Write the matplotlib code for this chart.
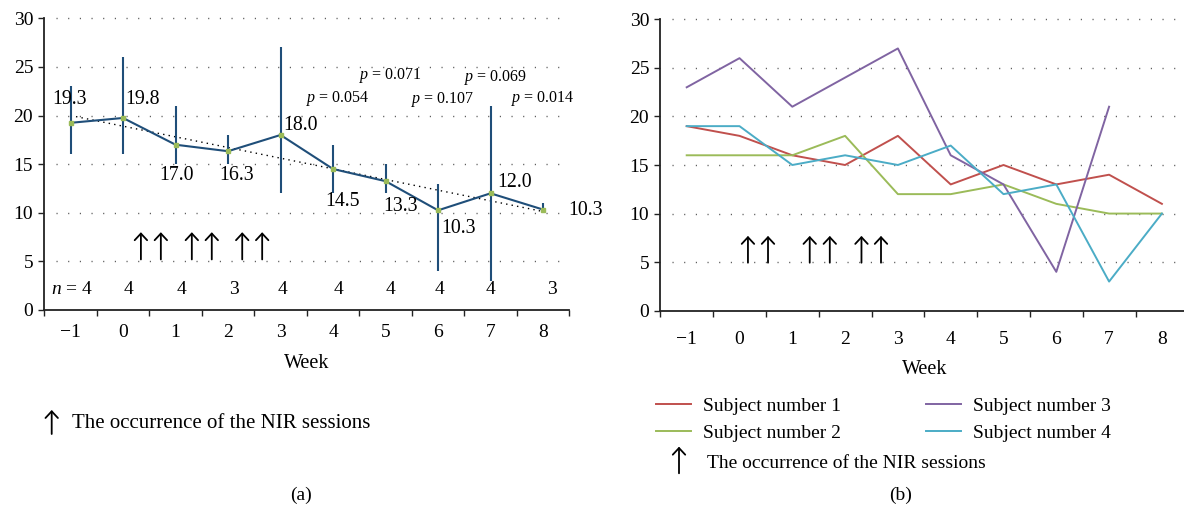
import numpy as np
import matplotlib
matplotlib.use("Agg")
import matplotlib.pyplot as plt

plt.rcParams['font.family'] = ['Liberation Serif', 'DejaVu Serif']
plt.rcParams['mathtext.fontset'] = 'custom'
plt.rcParams['mathtext.rm'] = 'Liberation Serif'
plt.rcParams['mathtext.it'] = 'Liberation Serif:italic'

# ---------------- data ----------------
weeks = [-1, 0, 1, 2, 3, 4, 5, 6, 7, 8]
week_labels = ["\u22121", "0", "1", "2", "3", "4", "5", "6", "7", "8"]

mean_score = [19.25, 19.75, 17.0, 16.33, 18.0, 14.5, 13.25, 10.25, 12.0, 10.33]
mean_labels = ["19.3", "19.8", "17.0", "16.3", "18.0", "14.5", "13.3", "10.3", "12.0", "10.3"]
range_low = [16, 16, 15, 15, 12, 12, 12, 4, 3, 10]
range_high = [23, 26, 21, 18, 27, 17, 15, 13, 21, 11]
n_subjects = [4, 4, 4, 3, 4, 4, 4, 4, 4, 3]
p_labels = ["0.054", "0.071", "0.107", "0.069", "0.014"]
p_weeks = [4, 5, 6, 7, 8]

subject1 = [19, 18, 16, 15, 18, 13, 15, 13, 14, 11]
subject2 = [16, 16, 16, 18, 12, 12, 13, 11, 10, 10]
subject3 = [23, 26, 21, np.nan, 27, 16, 13, 4, 21, np.nan]
subject4 = [19, 19, 15, 16, 15, 17, 12, 13, 3, 10]
subject_names = ["Subject number 1", "Subject number 2", "Subject number 3", "Subject number 4"]

# NIR session times (weeks)
sessions_a = [0.34, 0.72, 1.31, 1.69, 2.27, 2.65]
sessions_b = [0.16, 0.54, 1.33, 1.71, 2.31, 2.68]

# ---------------- style ----------------
c_mean = '#1f4e79'
c_marker = '#9bbb59'
subj_colors = ['#c0504d', '#9bbb59', '#8064a2', '#4bacc6']
grid_color = '#555555'
arrow_style = '->, head_length=0.3, head_width=0.28'

W, H = 1184, 516
fig = plt.figure(figsize=(W / 100, H / 100), dpi=100)

def fx(px):
    return px / W

def fy(py):
    return 1 - py / H

ax1 = fig.add_axes([fx(44.3), fy(310), (569.3 - 44.3) / W, (310 - 18.3) / H])
ax2 = fig.add_axes([fx(660.3), fy(310.7), (1188.3 - 660.3) / W, (310.7 - 19.3) / H])

def style_axes(ax, xpad, grid_end):
    ax.set_xlim(-1.5, 8.5)
    ax.set_ylim(0, 30)
    for s in ['top', 'right']:
        ax.spines[s].set_visible(False)
    for s in ['left', 'bottom']:
        ax.spines[s].set_color('#222222')
        ax.spines[s].set_linewidth(1.3)
    ax.set_yticks(range(0, 31, 5))
    ax.set_xticks(np.arange(-1.5, 9.0, 1.0))
    ax.set_xticklabels([])
    ax.set_xticks(weeks, minor=True)
    ax.set_xticklabels(week_labels, minor=True)
    ax.tick_params(axis='y', length=4, width=1.0, color='#222222', labelsize=14, pad=4)
    ax.tick_params(axis='x', which='major', length=4.5, width=1.0, color='#222222')
    ax.tick_params(axis='x', which='minor', length=0, labelsize=14, pad=xpad)
    ax.hlines(range(5, 31, 5), -1.27, grid_end, colors=grid_color,
              linestyles=[(0, (0.8, 7.6))], linewidth=1.0, clip_on=False, zorder=1)
    ax.set_facecolor('none')

style_axes(ax1, 10, 8.4)
style_axes(ax2, 14.5, 8.3)

# ---------------- panel (a) ----------------
ax1.vlines(weeks, range_low, range_high, colors=c_mean, linewidth=1.5, zorder=3)
ax1.plot(weeks, mean_score, color=c_mean, lw=1.5, zorder=4)
ax1.plot(weeks, mean_score, ls='none', marker='s', ms=2.5, color=c_marker, zorder=5)
coef = np.polyfit(weeks, mean_score, 1)
trend = np.polyval(coef, weeks)
ax1.plot([weeks[0], weeks[-1]], [trend[0], trend[-1]], color='black', lw=1.0,
         ls=(0, (1, 3)), zorder=2)

lab_pos = [(-1.01, 21.7, 'center'), (0.04, 21.7, 'left'), (1.01, 13.8, 'center'),
           (2.16, 13.8, 'center'), (3.05, 19.0, 'left'), (4.19, 11.2, 'center'),
           (5.29, 10.6, 'center'), (6.06, 8.4, 'left'), (7.12, 13.1, 'left'),
           (8.48, 10.2, 'left')]
for (x, y, ha), s in zip(lab_pos, mean_labels):
    ax1.text(x, y, s, ha=ha, va='center', fontsize=14.3, clip_on=False, zorder=6)

p_pos = [(4.10, 21.8), (5.09, 24.1), (6.08, 21.7), (7.10, 23.9), (7.99, 21.8)]
for (x, y), s in zip(p_pos, p_labels):
    ax1.text(x, y, r"$p$ = " + s, ha='center', va='center', fontsize=11.5)

n_pos = [-0.97, 0.10, 1.12, 2.11, 3.03, 4.11, 5.10, 6.02, 7.0, 8.17]
for i, (x, n) in enumerate(zip(n_pos, n_subjects)):
    s = r"$n$ = %d" % n if i == 0 else "%d" % n
    ax1.text(x, 2.06, s, ha='center', va='center', fontsize=14)

for x in sessions_a:
    ax1.annotate('', xy=(x, 8.0), xytext=(x, 5.2),
                 arrowprops=dict(arrowstyle=arrow_style, lw=1.3, color='black',
                                 shrinkA=0, shrinkB=0, mutation_scale=16))

# ---------------- panel (b) ----------------
lines = []
for vals, col, name in zip([subject1, subject2, subject3, subject4], subj_colors, subject_names):
    v = np.array(vals, dtype=float)
    x = np.array(weeks, dtype=float)
    m = ~np.isnan(v)
    ln, = ax2.plot(x[m], v[m], color=col, lw=1.4, label=name, zorder=3)
    lines.append(ln)

for x in sessions_b:
    ax2.annotate('', xy=(x, 7.7), xytext=(x, 4.94),
                 arrowprops=dict(arrowstyle=arrow_style, lw=1.3, color='black',
                                 shrinkA=0, shrinkB=0, mutation_scale=16))

# ---------------- outer texts ----------------
fig.text(fx(307), fy(363.3), "Week", ha='center', va='center', fontsize=14.5)
fig.text(fx(924.5), fy(369), "Week", ha='center', va='center', fontsize=14.5)
fig.text(fx(301.3), fy(495), "(a)", ha='center', va='center', fontsize=14)
fig.text(fx(900.8), fy(495), "(b)", ha='center', va='center', fontsize=14)

fig.text(fx(71.7), fy(424), "The occurrence of the NIR sessions", ha='left', va='center', fontsize=15)
fig.add_artist(matplotlib.patches.FancyArrowPatch((fx(51.7), fy(434)), (fx(51.7), fy(410)),
               transform=fig.transFigure, arrowstyle=arrow_style, lw=1.3, color='black',
               mutation_scale=16, shrinkA=0, shrinkB=0))

fig.legend(handles=lines, loc='upper left', bbox_to_anchor=(fx(656), fy(397)), ncol=2,
           frameon=False, fontsize=14, handlelength=1.8, handletextpad=0.6,
           columnspacing=4.4, labelspacing=0.5, borderaxespad=0, borderpad=0)

fig.text(fx(707.3), fy(463.3), "The occurrence of the NIR sessions", ha='left', va='center', fontsize=14)
fig.add_artist(matplotlib.patches.FancyArrowPatch((fx(679), fy(473.3)), (fx(679), fy(446.7)),
               transform=fig.transFigure, arrowstyle=arrow_style, lw=1.3, color='black',
               mutation_scale=16, shrinkA=0, shrinkB=0))

fig.savefig("out.png", dpi=100)
